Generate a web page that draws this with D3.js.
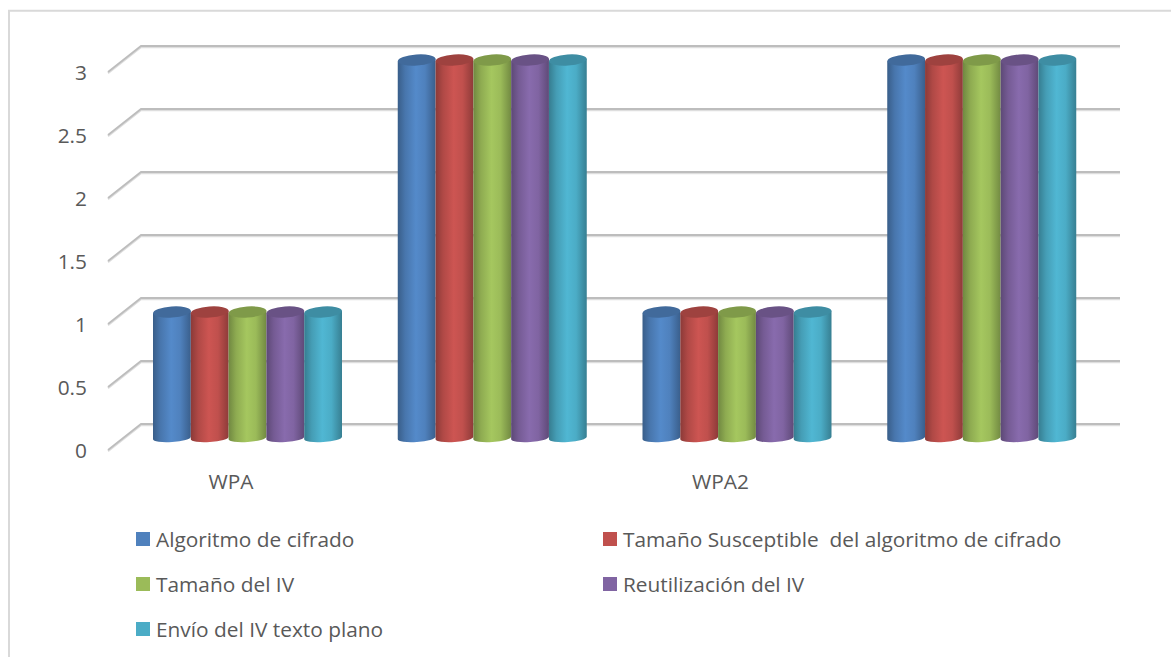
<!DOCTYPE html>
<html>
<head>
<meta charset="utf-8">
<script src="https://cdnjs.cloudflare.com/ajax/libs/d3/7.8.5/d3.min.js"></script>
<style>
html, body { margin: 0; padding: 0; background: #fff; overflow: hidden; }
text { font-family: "Open Sans", sans-serif; fill: #595959; }
</style>
</head>
<body>
<svg id="chart" width="1171" height="657"></svg>
<script>
const categories = ['WPA', '', 'WPA2', ' '];
const seriesNames = ['Algoritmo de cifrado', 'Tamaño Susceptible  del algoritmo de cifrado', 'Tamaño del IV', 'Reutilización del IV', 'Envío del IV texto plano'];
const seriesColors = ['#4f81bd', '#c0504d', '#9bbb59', '#8064a2', '#4bacc6'];
const seriesValues = [
    [1, 3, 1, 3],
    [1, 3, 1, 3],
    [1, 3, 1, 3],
    [1, 3, 1, 3],
    [1, 3, 1, 3]
];
const yTicks = [0, 0.5, 1, 1.5, 2, 2.5, 3];

const DEPTH_X = 33;
const DEPTH_Y = 26;
const BAR_SHIFT_Y = 12;
const RY = 5.5;
const TILT = -4;

const svg = d3.select('#chart');
const defs = svg.append('defs');

// chart frame
svg.append('path')
    .attr('d', 'M9,657V10.7H1171')
    .style('fill', 'none')
    .style('stroke', '#d9d9d9')
    .style('stroke-width', 2);

const x = d3.scaleBand().domain(categories).range([108, 1087]);
const y = d3.scaleLinear().domain([0, 3]).range([450, 72]);
const barW = 37.8;
const barsX = d3.scaleBand().domain(d3.range(seriesNames.length)).range([45, 45 + barW * 5]);

// gridlines and the floor side of the wall
const grid = svg.append('g');
yTicks.forEach(function(t) {
    const py = y(t);
    const pts = [[x.range()[0], py], [x.range()[0] + DEPTH_X, py - DEPTH_Y], [1120, py - DEPTH_Y]];
    // soft shadow under each line
    grid.append('path')
        .attr('d', d3.line()(pts))
        .attr('transform', 'translate(0,1.2)')
        .style('fill', 'none')
        .style('stroke', '#dedede')
        .style('stroke-width', 2);
    grid.append('path')
        .attr('d', d3.line()(pts))
        .style('fill', 'none')
        .style('stroke', '#bdbdbd')
        .style('stroke-width', 1.8);
});

// y axis labels
svg.append('g').selectAll('text').data(yTicks).join('text')
    .attr('x', 87)
    .attr('y', d => y(d) + 8)
    .attr('text-anchor', 'end')
    .style('font-size', '20.85px')
    .text(d => d);

// cylinder gradients
seriesColors.forEach(function(c, i) {
    const g = defs.append('linearGradient').attr('id', 'cyl-' + i);
    g.append('stop').attr('offset', '0%').attr('stop-color', d3.color(c).darker(0.9));
    g.append('stop').attr('offset', '20%').attr('stop-color', d3.color(c).darker(0.25));
    g.append('stop').attr('offset', '48%').attr('stop-color', d3.color(c).brighter(0.18));
    g.append('stop').attr('offset', '72%').attr('stop-color', c);
    g.append('stop').attr('offset', '100%').attr('stop-color', d3.color(c).darker(0.85));
});

// bars, left to right
categories.forEach(function(cat, ci) {
    seriesNames.forEach(function(name, si) {
        const x0 = x(cat) + barsX(si);
        const rx = barW / 2;
        const yTop = y(seriesValues[si][ci]) - BAR_SHIFT_Y;
        const yBot = y(0) - BAR_SHIFT_Y;
        const dy = rx * Math.sin(-TILT * Math.PI / 180);
        const g = svg.append('g');
        g.append('path')
            .attr('d', 'M' + x0 + ',' + (yTop + dy) + 'V' + (yBot + dy)
                + 'A' + rx + ',' + (RY - 1.5) + ' ' + TILT + ' 0 0 ' + (x0 + barW) + ',' + (yBot - dy)
                + 'V' + (yTop - dy) + 'Z')
            .style('fill', 'url(#cyl-' + si + ')');
        g.append('ellipse')
            .attr('transform', 'translate(' + (x0 + rx) + ',' + yTop + ') rotate(' + TILT + ')')
            .attr('rx', rx)
            .attr('ry', RY)
            .style('fill', d3.color(seriesColors[si]).darker(0.55));
    });
});

// category labels
svg.append('g').selectAll('text').data(categories).join('text')
    .attr('x', d => x(d) + x.bandwidth() / 2 + 0.5)
    .attr('y', 489)
    .attr('text-anchor', 'middle')
    .style('font-size', '20.85px')
    .text(d => d.trim());

// legend
const legendX = [136, 603, 136, 603, 136];
const legendY = [532, 532, 577, 577, 622];
const legend = svg.append('g').selectAll('g').data(seriesNames).join('g')
    .attr('transform', (d, i) => 'translate(' + legendX[i] + ',' + legendY[i] + ')');
legend.append('rect')
    .attr('width', 14)
    .attr('height', 14)
    .style('fill', (d, i) => seriesColors[i]);
legend.append('text')
    .attr('x', 20)
    .attr('y', 15)
    .style('font-size', '20.85px')
    .style('white-space', 'pre')
    .text(d => d);
</script>
</body>
</html>
